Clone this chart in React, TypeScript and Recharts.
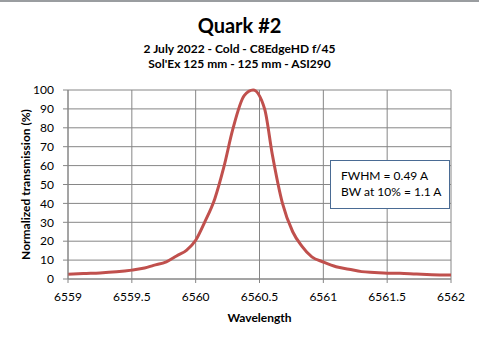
import React from "react";
import {
  LineChart,
  Line,
  XAxis,
  YAxis,
  CartesianGrid,
} from "recharts";

const wavelengths = [
  6559.0, 6559.12, 6559.25, 6559.38, 6559.5, 6559.6, 6559.67, 6559.77,
  6559.85, 6559.93, 6560.0, 6560.07, 6560.15, 6560.22, 6560.29, 6560.38,
  6560.45, 6560.54, 6560.6, 6560.68, 6560.76, 6560.83, 6560.91, 6561.0,
  6561.1, 6561.2, 6561.3, 6561.4, 6561.5, 6561.6, 6561.73, 6561.85, 6562.0,
];
const transmission = [
  2.5, 2.9, 3.2, 3.8, 4.7, 5.8, 7.2, 9.1,
  12.2, 15.3, 20.5, 30, 42.5, 59, 79, 97,
  100, 90, 66, 40, 25, 17.5, 11.7, 9.0,
  6.5, 5.2, 3.9, 3.5, 3.1, 3.0, 2.6, 2.3, 2.1,
];
const xTicks = [6559, 6559.5, 6560, 6560.5, 6561, 6561.5, 6562];
const yTicks = [0, 10, 20, 30, 40, 50, 60, 70, 80, 90, 100];

const data = wavelengths.map((wl, i) => ({ wl, t: transmission[i] }));

const FONT = "Lato, 'Open Sans', sans-serif";
const GRID = "#868686";

const App: React.FC = () => {
  return (
    <div
      style={{
        position: "absolute",
        left: 0,
        top: 0,
        width: 479,
        height: 339,
        background: "#fff",
        fontFamily: FONT,
        color: "#000",
        borderTop: "2px solid #9a9da0",
        boxSizing: "border-box",
      }}
    >
      <div style={{ position: "absolute", top: 11, width: 479, textAlign: "center", fontSize: 20, fontWeight: 700, lineHeight: "24px" }}>
        Quark #2
      </div>
      <div style={{ position: "absolute", top: 40, width: 479, textAlign: "center", fontSize: 12, fontWeight: 700, lineHeight: "14px" }}>
        2 July 2022 - Cold - C8EdgeHD f/45
      </div>
      <div style={{ position: "absolute", top: 55, width: 479, textAlign: "center", fontSize: 12, fontWeight: 700, lineHeight: "14px" }}>
        Sol'Ex 125 mm - 125 mm - ASI290
      </div>
      <div style={{ position: "absolute", top: -2 }}>
        <LineChart
          width={479}
          height={339}
          data={data}
          margin={{ top: 90, right: 28, bottom: 0, left: 0 }}
        >
          <CartesianGrid stroke={GRID} strokeWidth={1} />
          <XAxis
            dataKey="wl"
            type="number"
            domain={[6559, 6562]}
            ticks={xTicks}
            interval={0}
            height={60}
            stroke={GRID}
            tickSize={4}
            tickMargin={9}
            tick={{ fontSize: 12, fill: "#000", fontFamily: FONT }}
            label={{
              value: "Wavelength",
              position: "insideBottom",
              offset: 17,
              style: { fontSize: 12, fontWeight: 700, fill: "#000", fontFamily: FONT },
            }}
          />
          <YAxis
            type="number"
            domain={[0, 100]}
            ticks={yTicks}
            interval={0}
            width={68}
            stroke={GRID}
            tickSize={5}
            tickMargin={9}
            tick={{ fontSize: 12, fill: "#000", fontFamily: FONT }}
            label={{
              value: "Normalized transmission  (%)",
              angle: -90,
              position: "insideLeft",
              offset: 26,
              style: { fontSize: 12, fontWeight: 700, fill: "#000", fontFamily: FONT, textAnchor: "middle" },
            }}
          />
          <Line
            type="monotone"
            dataKey="t"
            stroke="#C0504D"
            strokeWidth={3}
            dot={false}
            isAnimationActive={false}
          />
        </LineChart>
      </div>
      <div
        style={{
          position: "absolute",
          left: 330,
          top: 158,
          width: 120,
          height: 49,
          border: "1px solid #4a6b94",
          background: "#fff",
          fontSize: 12,
          lineHeight: "16px",
          paddingLeft: 10,
          paddingTop: 7,
          boxSizing: "border-box",
        }}
      >
        <div>FWHM = 0.49 A</div>
        <div>BW at 10% = 1.1 A</div>
      </div>
    </div>
  );
};

export default App;
